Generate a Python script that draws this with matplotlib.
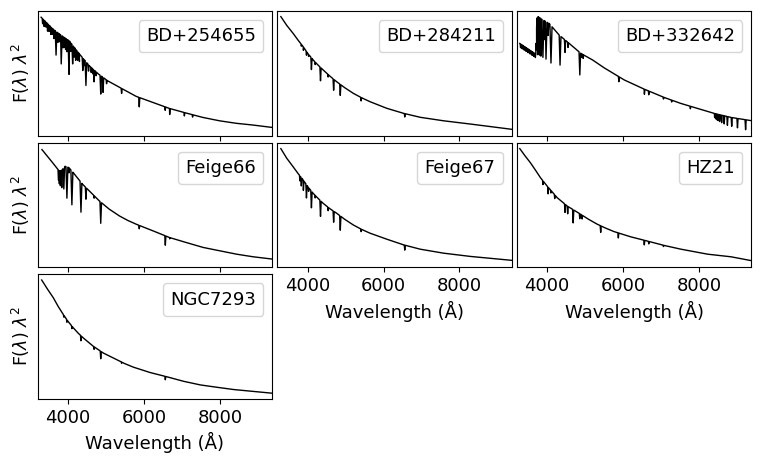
import numpy as np
import matplotlib
matplotlib.use('Agg')
import matplotlib.pyplot as plt

# Star names, one per panel (row by row)
names = ['BD+254655', 'BD+284211', 'BD+332642',
         'Feige66', 'Feige67', 'HZ21', 'NGC7293']

# Continuum knots: wavelength (A) and flux as a fraction of the panel height
contW = {
    'BD+254655': [3290, 3600, 3800, 4035, 4300, 4563, 4800, 5046, 5442, 5793, 6233, 6672, 7112, 7551, 7991, 8430, 8870, 9400],
    'BD+284211': [3295, 3450, 3620, 3750, 3884, 4010, 4148, 4280, 4412, 4580, 4766, 4980, 5205, 5420, 5646, 6087, 6526, 6967, 7583, 8288, 9400],
    'BD+332642': [3280, 3700, 3730, 3760, 3850, 4053, 4317, 4581, 4890, 5200, 5500, 5815, 6034, 6555, 7084, 7524, 7965, 8405, 8846, 9400],
    'Feige66':   [3313, 3596, 3770, 3840, 3920, 4020, 4141, 4211, 4387, 4563, 4827, 5080, 5356, 5570, 5797, 6237, 6677, 7118, 7559, 7997, 8439, 8879, 9400],
    'Feige67':   [3295, 3450, 3620, 3750, 3884, 4010, 4148, 4280, 4412, 4580, 4766, 4980, 5205, 5420, 5646, 6087, 6526, 6967, 7583, 8288, 9400],
    'HZ21':      [3279, 3420, 3561, 3700, 3826, 4000, 4264, 4528, 4882, 5100, 5321, 5540, 5762, 6203, 6642, 7083, 7524, 8227, 8845, 9400],
    'NGC7293':   [3305, 3460, 3611, 3740, 3876, 4000, 4140, 4270, 4404, 4668, 4933, 5286, 5500, 5725, 6166, 6607, 7046, 7487, 7928, 8367, 9400],
}
contF = {
    'BD+254655': [0.95, 0.856, 0.81, 0.76, 0.655, 0.56, 0.495, 0.44, 0.374, 0.316, 0.267, 0.219, 0.182, 0.147, 0.120, 0.100, 0.086, 0.066],
    'BD+284211': [0.955, 0.885, 0.82, 0.766, 0.714, 0.658, 0.607, 0.565, 0.527, 0.48, 0.433, 0.385, 0.34, 0.305, 0.273, 0.22, 0.18, 0.148, 0.12, 0.094, 0.051],
    'BD+332642': [0.74, 0.655, 0.94, 0.955, 0.935, 0.90, 0.807, 0.74, 0.66, 0.607, 0.545, 0.487, 0.447, 0.374, 0.307, 0.259, 0.219, 0.179, 0.147, 0.12],
    'Feige66':   [0.944, 0.838, 0.771, 0.78, 0.81, 0.80, 0.758, 0.731, 0.665, 0.612, 0.532, 0.468, 0.412, 0.377, 0.346, 0.293, 0.239, 0.199, 0.16, 0.133, 0.106, 0.085, 0.066],
    'Feige67':   [0.952, 0.875, 0.806, 0.752, 0.70, 0.645, 0.593, 0.552, 0.513, 0.472, 0.434, 0.385, 0.34, 0.305, 0.274, 0.226, 0.181, 0.146, 0.114, 0.088, 0.056],
    'HZ21':      [0.952, 0.893, 0.838, 0.776, 0.718, 0.652, 0.559, 0.492, 0.426, 0.384, 0.346, 0.315, 0.287, 0.245, 0.211, 0.176, 0.146, 0.106, 0.085, 0.053],
    'NGC7293':   [0.954, 0.88, 0.812, 0.742, 0.677, 0.622, 0.57, 0.527, 0.489, 0.422, 0.368, 0.315, 0.283, 0.255, 0.212, 0.178, 0.142, 0.113, 0.094, 0.076, 0.046],
}

# Absorption lines: (wavelength, depth below continuum)
lines = {
    'BD+254655': [(3330, 0.04), (3370, 0.05), (3420, 0.04), (3460, 0.06), (3500, 0.05), (3545, 0.06),
                  (3580, 0.05), (3630, 0.07), (3684, 0.19), (3720, 0.08), (3750, 0.07), (3790, 0.06),
                  (3820, 0.23), (3870, 0.09), (3900, 0.08), (3935, 0.09), (3970, 0.1), (4026, 0.27),
                  (4070, 0.07), (4121, 0.15), (4160, 0.08), (4200, 0.09), (4250, 0.07), (4300, 0.06),
                  (4388, 0.10), (4420, 0.05), (4471, 0.19), (4540, 0.05), (4610, 0.04), (4650, 0.04),
                  (4686, 0.094), (4740, 0.03), (4861, 0.147), (4922, 0.12), (5015, 0.03), (5411, 0.04),
                  (5876, 0.075), (6560, 0.027), (6678, 0.048), (7065, 0.027), (7281, 0.019)],
    'BD+284211': [(3835, 0.015), (3889, 0.027), (3970, 0.03), (4026, 0.015), (4101, 0.094), (4200, 0.02),
                  (4340, 0.107), (4541, 0.02), (4686, 0.088), (4861, 0.088), (5411, 0.027), (6560, 0.027)],
    'BD+332642': [(3300, 0.03), (3325, 0.025), (3345, 0.03), (3370, 0.025), (3395, 0.03), (3420, 0.025),
                  (3445, 0.03), (3470, 0.025), (3495, 0.03), (3520, 0.025), (3545, 0.03), (3570, 0.025),
                  (3595, 0.03), (3620, 0.025), (3645, 0.03), (3670, 0.025), (3690, 0.03),
                  (3712, 0.08), (3722, 0.15), (3734, 0.25), (3750, 0.3), (3771, 0.3), (3798, 0.3),
                  (3835, 0.3), (3889, 0.3), (3933, 0.15), (3970, 0.3), (4026, 0.1), (4101, 0.3),
                  (4340, 0.235), (4471, 0.1), (4550, 0.04), (4861, 0.18), (4900, 0.03), (4950, 0.03),
                  (5890, 0.04), (6563, 0.04), (6678, 0.03), (7065, 0.015), (7281, 0.015), (7774, 0.02),
                  (8413, 0.03), (8438, 0.04), (8467, 0.045), (8502, 0.05), (8545, 0.055), (8598, 0.06),
                  (8665, 0.065), (8750, 0.07), (8863, 0.07), (9015, 0.075), (9229, 0.08)],
    'Feige66':   [(3750, 0.08), (3770, 0.1), (3798, 0.12), (3835, 0.14), (3889, 0.17), (3970, 0.25),
                  (4026, 0.04), (4101, 0.27), (4340, 0.24), (4471, 0.093), (4686, 0.02), (4861, 0.17),
                  (5876, 0.027), (6563, 0.075), (6678, 0.01)],
    'Feige67':   [(3798, 0.04), (3835, 0.066), (3889, 0.08), (3970, 0.106), (4026, 0.03), (4101, 0.133),
                  (4200, 0.02), (4340, 0.125), (4541, 0.027), (4686, 0.088), (4861, 0.114), (5411, 0.02),
                  (6560, 0.04)],
    'HZ21':      [(3890, 0.03), (4026, 0.053), (4100, 0.02), (4200, 0.03), (4471, 0.066), (4541, 0.06),
                  (4686, 0.106), (4860, 0.04), (4922, 0.03), (5411, 0.053), (5876, 0.04), (6560, 0.037),
                  (6678, 0.02), (7065, 0.01)],
    'NGC7293':   [(3889, 0.015), (3970, 0.02), (4101, 0.02), (4340, 0.04), (4686, 0.02), (4861, 0.06),
                  (5411, 0.01), (6563, 0.027)],
}


def spectrum(name):
    kw = contW[name]
    kf = contF[name]
    wave = list(kw)
    flux = list(kf)
    for lam, depth in lines[name]:
        hw = 10 + 60 * depth
        wave += [lam - hw, lam, lam + hw]
        flux += [np.interp(lam - hw, kw, kf), np.interp(lam, kw, kf) - depth, np.interp(lam + hw, kw, kf)]
    order = np.argsort(wave)
    return np.array(wave)[order], np.array(flux)[order]


plt.rcParams['font.size'] = 13
fig, axes = plt.subplots(3, 3, figsize=(7.63, 4.70), dpi=100)
fig.subplots_adjust(left=0.0494, right=0.9847, top=0.9766, bottom=0.151, wspace=0.0213, hspace=0.055)

for i, name in enumerate(names):
    ax = axes.flat[i]
    w, f = spectrum(name)
    ax.plot(w, f, color='k', linewidth=1.0, label=name)
    ax.set_xlim(3200, 9380)
    ax.set_ylim(0, 1)
    ax.set_yticks([])
    ax.set_xticks([4000, 6000, 8000])
    ax.legend(loc='upper right', handlelength=0, handletextpad=0)
    if i % 3 == 0:
        ax.set_ylabel(r'F($\lambda$) $\lambda^2$', fontsize=12.5)
    if i in (4, 5, 6):
        ax.set_xlabel('Wavelength (Å)')
    else:
        ax.tick_params(labelbottom=False)

axes[2, 1].axis('off')
axes[2, 2].axis('off')

plt.savefig('out.png', dpi=100)
